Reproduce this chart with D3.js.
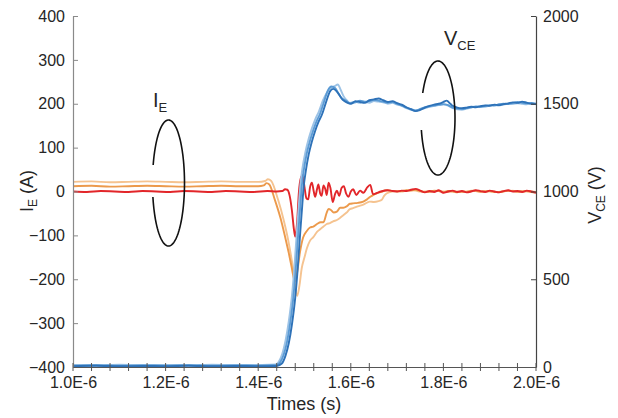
<!DOCTYPE html>
<html>
<head>
<meta charset="utf-8">
<script src="https://cdn.jsdelivr.net/npm/d3@7"></script>
<style>
  body { margin: 0; background: #fff; }
  text { font-family: "Liberation Sans", Arial, sans-serif; fill: #262626; }
</style>
</head>
<body>
<div id="chart"></div>
<script>
// Times are in units of 1E-6 s
const xTicks = [1.0, 1.2, 1.4, 1.6, 1.8, 2.0];
const ieTicks = [-400, -300, -200, -100, 0, 100, 200, 300, 400];
const vceTicks = [0, 500, 1000, 1500, 2000];

// Emitter current traces [time, A]
const ieRed = [[1.00,0],[1.03,-1],[1.06,1],[1.09,0],[1.12,-1],[1.15,1],[1.18,0],[1.21,-1],[1.24,1],[1.27,0],[1.30,-1],[1.33,1],[1.36,0],[1.39,-1],[1.42,1],[1.44,0],
  [1.452,1],[1.458,5],[1.463,4],[1.468,-10],[1.473,-45],[1.477,-85],[1.480,-103],[1.484,-70],[1.488,0],[1.492,30],[1.496,37],[1.500,10],[1.504,-15],[1.508,-18],
  [1.512,10],[1.516,20],[1.520,0],[1.523,-12],[1.527,5],[1.530,16],[1.534,-5],[1.537,-10],[1.541,14],[1.545,5],[1.548,-8],[1.552,20],[1.556,8],[1.561,-24],
  [1.566,-6],[1.570,2],[1.575,-10],[1.580,8],[1.585,12],[1.590,-5],[1.595,-12],[1.600,0],[1.605,5],[1.612,-8],[1.620,2],[1.627,-3],[1.636,10],[1.642,15],
  [1.648,-6],[1.655,-4],[1.665,0],[1.680,3],[1.69,1],[1.70,0],[1.71,2],[1.72,1],[1.73,4],[1.74,6],[1.75,2],[1.76,-2],[1.77,1],[1.78,-1],[1.79,3],[1.80,-3],
  [1.81,0],[1.82,2],[1.83,-1],[1.84,1],[1.85,-2],[1.86,0],[1.87,3],[1.88,1],[1.89,-1],[1.90,2],[1.91,0],[1.92,-2],[1.93,1],[1.94,3],[1.95,0],[1.96,1],
  [1.97,-1],[1.98,2],[1.99,0],[2.00,-3]];

const ieOrange = [[1.00,12],[1.04,13],[1.08,11],[1.12,12],[1.16,13],[1.20,12],[1.24,11],[1.28,12],[1.32,13],[1.36,12],[1.40,12],[1.412,14],[1.418,19],[1.424,16],
  [1.436,-19],[1.448,-60],[1.458,-103],[1.466,-140],[1.472,-171],[1.479,-205],[1.484,-185],[1.490,-140],[1.497,-105],[1.505,-90],[1.512,-82],[1.519,-80],
  [1.527,-74],[1.535,-70],[1.541,-70],[1.548,-48],[1.552,-40],[1.557,-42],[1.563,-48],[1.570,-46],[1.577,-37],[1.584,-37],[1.591,-34],[1.598,-28],[1.605,-27],
  [1.615,-26],[1.627,-23],[1.635,-18],[1.642,-12],[1.650,-7],[1.656,-4],[1.665,-1],[1.678,3],[1.69,1],[1.70,0],[1.71,1],[1.72,3],[1.73,2],[1.74,4],[1.75,1],
  [1.76,-1],[1.77,0],[1.78,2],[1.79,1],[1.80,-2],[1.81,1],[1.82,0],[1.83,-2],[1.84,0],[1.85,-1],[1.86,1],[1.87,2],[1.88,0],[1.89,0],[1.90,1],[1.91,-1],
  [1.92,-1],[1.93,0],[1.94,2],[1.95,1],[1.96,0],[1.97,0],[1.98,1],[1.99,-1],[2.00,-2]];

const ieLight = [[1.00,22],[1.04,23],[1.08,21],[1.12,22],[1.16,23],[1.20,22],[1.24,21],[1.28,22],[1.32,23],[1.36,22],[1.40,22],[1.415,24],[1.421,28],[1.428,24],
  [1.443,-19],[1.455,-65],[1.465,-112],[1.476,-180],[1.484,-238],[1.489,-215],[1.494,-175],[1.500,-150],[1.505,-130],[1.512,-112],[1.519,-104],[1.527,-92],
  [1.535,-85],[1.541,-80],[1.548,-74],[1.555,-72],[1.562,-68],[1.570,-65],[1.577,-60],[1.584,-54],[1.591,-48],[1.598,-40],[1.605,-38],[1.615,-34],[1.627,-30],
  [1.641,-23],[1.650,-24],[1.660,-22],[1.667,-19],[1.672,-10],[1.678,-4],[1.69,0],[1.70,1],[1.71,0],[1.72,2],[1.73,3],[1.74,2],[1.75,0],[1.76,0],[1.77,-1],
  [1.78,1],[1.79,2],[1.80,0],[1.81,-1],[1.82,1],[1.83,0],[1.84,-1],[1.85,0],[1.86,2],[1.87,1],[1.88,-1],[1.89,1],[1.90,0],[1.91,0],[1.92,-2],[1.93,1],
  [1.94,1],[1.95,2],[1.96,-1],[1.97,1],[1.98,0],[1.99,0],[2.00,-1]];

// Collector-emitter voltage traces [time, V]
const vceDark = [[1.00,5],[1.05,7],[1.10,4],[1.15,6],[1.20,5],[1.25,7],[1.30,4],[1.35,6],[1.40,5],[1.44,6],[1.451,20],[1.459,65],[1.466,135],[1.473,245],
  [1.480,395],[1.486,585],[1.491,775],[1.495,915],[1.498,1020],[1.503,1120],[1.509,1210],[1.516,1285],[1.523,1345],[1.530,1395],[1.538,1440],[1.546,1505],
  [1.555,1570],[1.562,1585],[1.568,1575],[1.574,1555],[1.580,1530],[1.586,1515],[1.593,1505],[1.600,1500],[1.61,1515],[1.62,1510],[1.63,1505],[1.64,1520],
  [1.65,1525],[1.66,1530],[1.67,1520],[1.68,1510],[1.69,1515],[1.70,1503],[1.71,1495],[1.72,1480],[1.73,1468],[1.74,1458],[1.75,1465],[1.76,1478],[1.77,1488],
  [1.78,1495],[1.79,1500],[1.80,1510],[1.807,1518],[1.815,1500],[1.82,1488],[1.83,1478],[1.84,1475],[1.85,1478],[1.86,1483],[1.87,1480],[1.88,1486],[1.89,1490],
  [1.90,1488],[1.91,1495],[1.92,1492],[1.93,1498],[1.94,1502],[1.95,1508],[1.96,1505],[1.97,1512],[1.98,1506],[1.99,1500],[2.00,1498]];

const vceMid = [[1.00,8],[1.05,10],[1.10,7],[1.15,9],[1.20,8],[1.25,10],[1.30,7],[1.35,9],[1.40,8],[1.43,10],[1.440,12],[1.447,25],[1.455,70],[1.462,140],
  [1.469,250],[1.476,400],[1.482,590],[1.487,780],[1.491,920],[1.494,1027],[1.499,1130],[1.505,1218],[1.512,1290],[1.519,1350],[1.526,1400],[1.534,1445],
  [1.542,1510],[1.551,1578],[1.558,1598],[1.566,1590],[1.572,1565],[1.578,1540],[1.584,1525],[1.591,1515],[1.598,1502],[1.61,1508],[1.62,1518],[1.63,1512],
  [1.64,1515],[1.65,1522],[1.66,1518],[1.67,1512],[1.68,1505],[1.69,1510],[1.70,1500],[1.71,1490],[1.72,1478],[1.73,1470],[1.74,1462],[1.75,1470],[1.76,1480],
  [1.77,1485],[1.78,1490],[1.79,1495],[1.80,1498],[1.81,1492],[1.82,1478],[1.83,1472],[1.84,1470],[1.85,1475],[1.86,1480],[1.87,1485],[1.88,1482],[1.89,1488],
  [1.90,1492],[1.91,1490],[1.92,1497],[1.93,1500],[1.94,1498],[1.95,1505],[1.96,1510],[1.97,1506],[1.98,1502],[1.99,1505],[2.00,1500]];

const vceLight = [[1.00,12],[1.05,10],[1.10,13],[1.15,11],[1.20,12],[1.25,10],[1.30,13],[1.35,11],[1.40,12],[1.437,14],[1.444,28],[1.452,75],[1.459,150],
  [1.466,260],[1.473,410],[1.479,600],[1.484,790],[1.488,930],[1.491,1035],[1.496,1140],[1.502,1225],[1.509,1300],[1.516,1360],[1.523,1410],[1.531,1455],
  [1.540,1520],[1.549,1565],[1.557,1590],[1.565,1600],[1.572,1610],[1.578,1580],[1.584,1545],[1.591,1520],[1.598,1505],[1.61,1512],[1.62,1505],[1.63,1510],
  [1.64,1506],[1.65,1515],[1.66,1512],[1.67,1508],[1.68,1500],[1.69,1505],[1.70,1495],[1.71,1488],[1.72,1475],[1.73,1465],[1.74,1460],[1.75,1468],[1.76,1475],
  [1.77,1482],[1.78,1488],[1.79,1492],[1.80,1495],[1.81,1490],[1.82,1475],[1.83,1468],[1.84,1466],[1.85,1472],[1.86,1478],[1.87,1482],[1.88,1485],[1.89,1483],
  [1.90,1490],[1.91,1493],[1.92,1490],[1.93,1496],[1.94,1500],[1.95,1498],[1.96,1503],[1.97,1500],[1.98,1497],[1.99,1502],[2.00,1496]];

const WIDTH = 618;
const HEIGHT = 418;

const svg = d3.select('#chart')
  .append('svg')
  .attr('width', WIDTH)
  .attr('height', HEIGHT);

const xScale = d3.scaleLinear().domain([1.0, 2.0]).range([73, 536]);
const yLeft = d3.scaleLinear().domain([-400, 400]).range([367, 16]);
const yRight = d3.scaleLinear().domain([0, 2000]).range([367, 16]);

// traces
const traces = [
  { data: ieLight, y: yLeft, color: '#f5c390' },
  { data: ieOrange, y: yLeft, color: '#ec9a4c' },
  { data: ieRed, y: yLeft, color: '#e2262a' },
  { data: vceLight, y: yRight, color: '#9dc3e6' },
  { data: vceMid, y: yRight, color: '#5b9bd5' },
  { data: vceDark, y: yRight, color: '#2e72b8' }
];

traces.forEach(t => {
  const line = d3.line()
    .x(d => xScale(d[0]))
    .y(d => t.y(d[1]))
    .curve(d3.curveMonotoneX);
  svg.append('path')
    .datum(t.data)
    .attr('d', line)
    .attr('fill', 'none')
    .attr('stroke', t.color)
    .attr('stroke-width', 1.9)
    .attr('stroke-linejoin', 'round');
});

const FONT = '"Liberation Sans", Arial, sans-serif';

// left axis
const leftAxis = svg.append('g')
  .attr('transform', 'translate(73,0)')
  .call(d3.axisLeft(yLeft).tickValues(ieTicks).tickSizeInner(-5).tickSizeOuter(0).tickPadding(8));
leftAxis.select('.domain').attr('stroke', '#8a8a8a').attr('stroke-width', 1.2);
leftAxis.selectAll('.tick line').attr('stroke', '#8a8a8a');
leftAxis.selectAll('text').attr('font-size', 16).attr('font-family', FONT).attr('fill', '#262626');

// right axis
const rightAxis = svg.append('g')
  .attr('transform', 'translate(536,0)')
  .call(d3.axisRight(yRight).tickValues(vceTicks).tickSizeInner(-5).tickSizeOuter(0).tickPadding(7)
    .tickFormat(d3.format('d')));
rightAxis.select('.domain').attr('stroke', '#444').attr('stroke-width', 1.2);
rightAxis.selectAll('.tick line').attr('stroke', '#444');
rightAxis.selectAll('text').attr('font-size', 16).attr('font-family', FONT).attr('fill', '#262626');

// bottom axis with crossing minor ticks
const bottomAxis = svg.append('g')
  .attr('transform', 'translate(0,367)')
  .call(d3.axisBottom(xScale).tickValues(xTicks).tickSize(0).tickPadding(10)
    .tickFormat(d => d.toFixed(1) + 'E-6'));
bottomAxis.select('.domain').attr('stroke', '#555').attr('stroke-width', 1.2);
bottomAxis.selectAll('text').attr('font-size', 16).attr('font-family', FONT).attr('fill', '#262626');
bottomAxis.selectAll('.minor')
  .data(d3.range(0, 26).map(i => 1.0 + i * 0.04))
  .enter()
  .append('line')
  .attr('class', 'minor')
  .attr('x1', d => xScale(d))
  .attr('x2', d => xScale(d))
  .attr('y1', -4)
  .attr('y2', 4)
  .attr('stroke', '#555')
  .attr('stroke-width', 1);

// axis titles
svg.append('text')
  .attr('x', 304).attr('y', 410)
  .attr('text-anchor', 'middle')
  .attr('font-size', 18)
  .text('Times (s)');

const leftTitle = svg.append('text')
  .attr('transform', 'translate(33,191) rotate(-90)')
  .attr('text-anchor', 'middle')
  .attr('font-size', 18);
leftTitle.append('tspan').text('I');
leftTitle.append('tspan').attr('font-size', 12).attr('dy', 4).text('E');
leftTitle.append('tspan').attr('dy', -4).text(' (A)');

const rightTitle = svg.append('text')
  .attr('transform', 'translate(601,195) rotate(-90)')
  .attr('text-anchor', 'middle')
  .attr('font-size', 18);
rightTitle.append('tspan').text('V');
rightTitle.append('tspan').attr('font-size', 12).attr('dy', 4).text('CE');
rightTitle.append('tspan').attr('dy', -4).text(' (V)');

// annotation ellipses with an open gap on the left side
function openEllipse(cx, cy, rx, ry, gapTop, gapBottom) {
  const a0 = Math.PI + Math.asin((cy - gapTop) / ry);
  const a1 = Math.PI - Math.asin((gapBottom - cy) / ry) + 2 * Math.PI;
  const pts = d3.range(0, 121).map(i => {
    const a = a0 + (a1 - a0) * i / 120;
    return [cx + rx * Math.cos(a), cy + ry * Math.sin(a)];
  });
  svg.append('path')
    .attr('d', d3.line()(pts))
    .attr('fill', 'none')
    .attr('stroke', '#111')
    .attr('stroke-width', 1.6);
}
openEllipse(168.5, 183, 16, 63, 165, 197);
openEllipse(438, 118, 17, 57, 93, 130);

// annotation labels
const ieLabel = svg.append('text').attr('x', 153).attr('y', 107).attr('font-size', 20);
ieLabel.append('tspan').text('I');
ieLabel.append('tspan').attr('font-size', 13).attr('dy', 5).text('E');

const vceLabel = svg.append('text').attr('x', 444).attr('y', 45).attr('font-size', 20);
vceLabel.append('tspan').text('V');
vceLabel.append('tspan').attr('font-size', 13).attr('dy', 5).text('CE');
</script>
</body>
</html>
